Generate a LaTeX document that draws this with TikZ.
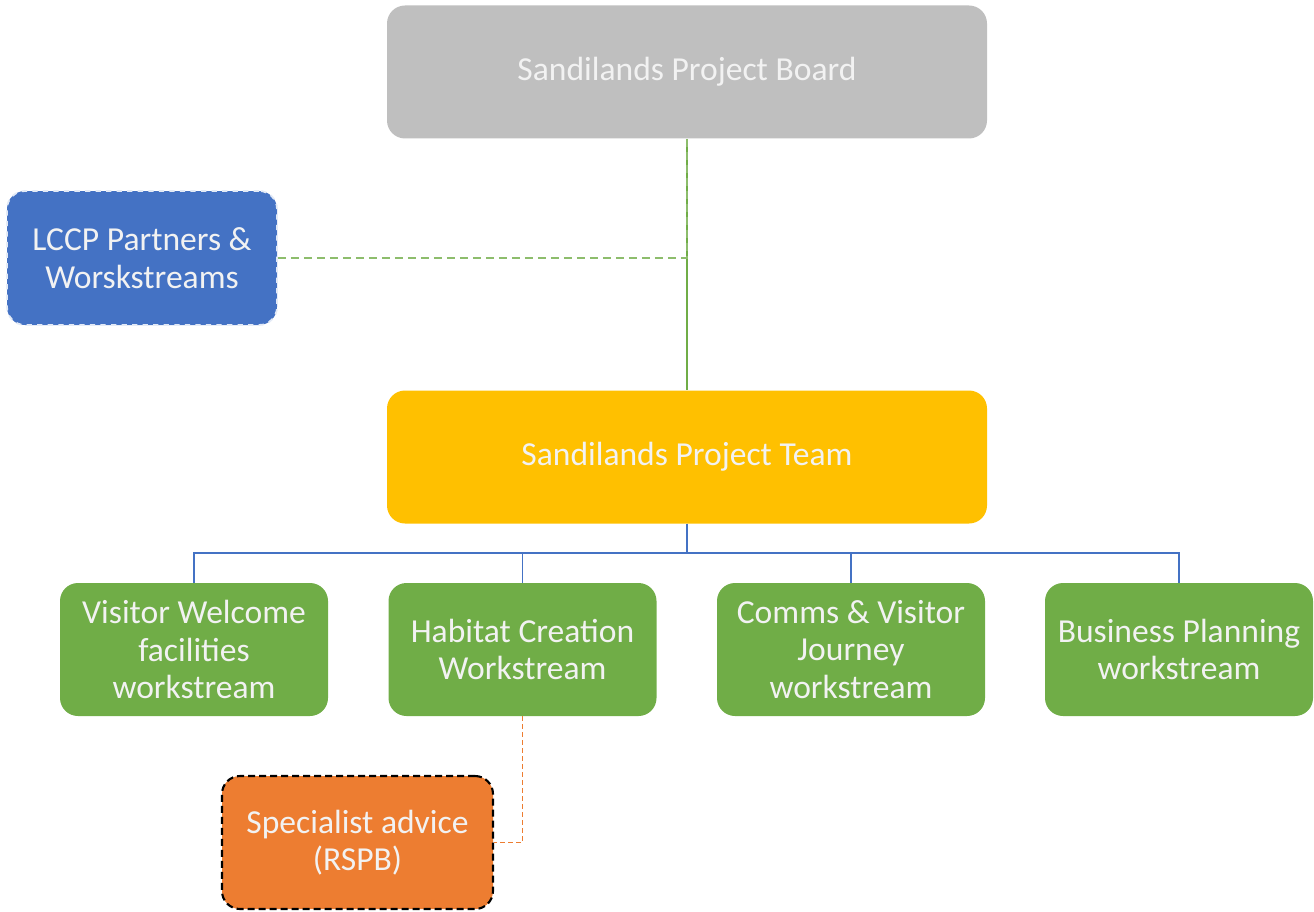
\documentclass[tikz,border=0pt]{standalone}
\usepackage{fontspec}
\setmainfont{Carlito}
\usepackage{tikz}

\definecolor{boardgray}{HTML}{BFBFBF}
\definecolor{lccpblue}{HTML}{4472C4}
\definecolor{teamgold}{HTML}{FFC000}
\definecolor{streamgreen}{HTML}{70AD47}
\definecolor{rspborange}{HTML}{ED7D31}

\begin{document}
\begin{tikzpicture}[
  box/.style={rounded corners=0.36cm, align=center, text=white!95!black,
    font=\fontsize{19.1}{21.3}\selectfont, inner sep=0pt},
  bigbox/.style={box, minimum width=12cm, minimum height=2.66cm},
  streambox/.style={box, fill=streamgreen, minimum width=5.36cm, minimum height=2.66cm},
  link/.style={line width=0.85pt}
]
  \useasboundingbox (0,0) rectangle (26.28,-18.22);

  \node[bigbox, fill=boardgray] (board) at (13.74,-1.44) {Sandilands Project Board};
  \node[box, fill=lccpblue, draw=white!85!lccpblue, dashed, line width=1pt,
        minimum width=5.4cm, minimum height=2.68cm] (lccp) at (2.84,-5.16)
        {LCCP Partners \&\\Worskstreams};
  \node[bigbox, fill=teamgold] (team) at (13.74,-9.14) {Sandilands Project Team};

  \node[streambox] (visitor) at (3.88,-12.99) {Visitor Welcome\\facilities\\workstream};
  \node[streambox] (habitat) at (10.45,-12.99) {Habitat Creation\\Workstream};
  \node[streambox] (comms) at (17.02,-12.99) {Comms \& Visitor\\Journey\\workstream};
  \node[streambox] (business) at (23.58,-12.99) {Business Planning\\workstream};

  \node[box, fill=rspborange, draw=black, dash pattern=on 0.14cm off 0.08cm, line width=1.2pt,
        minimum width=5.42cm, minimum height=2.66cm] (rspb) at (7.15,-16.85)
        {Specialist advice\\(RSPB)};

  % board to team
  \draw[link, streamgreen] (board.south) -- (team.north);
  \draw[link, streamgreen!80!white, dash pattern=on 0.16cm off 0.1cm] (lccp.east) -| (board.south);

  % team to workstreams
  \foreach \ws in {visitor,habitat,comms,business}
    \draw[link, lccpblue] (team.south) -- ++(0,-0.58) -| (\ws.north);

  % habitat to rspb
  \draw[link, rspborange, dash pattern=on 0.1cm off 0.06cm] (habitat.south) |- (rspb.east);
\end{tikzpicture}
\end{document}
